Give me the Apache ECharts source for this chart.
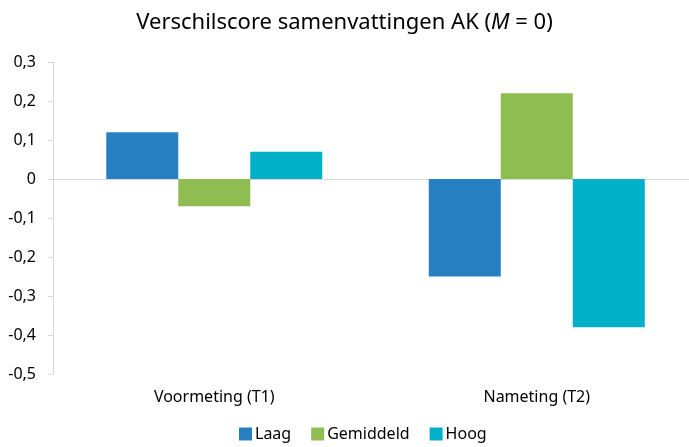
<!DOCTYPE html>
<html>
<head>
<meta charset="utf-8">
<script src="https://cdn.jsdelivr.net/npm/echarts@6/dist/echarts.min.js"></script>
<style>
  html, body { margin: 0; padding: 0; background: #fff; }
  #main { width: 689px; height: 447px; }
</style>
</head>
<body>
<div id="main"></div>
<script>
// data
var categories = ["Voormeting (T1)", "Nameting (T2)"];
var laag = [0.12, -0.25];
var gemiddeld = [-0.07, 0.22];
var hoog = [0.07, -0.38];
var seriesNames = ["Laag", "Gemiddeld", "Hoog"];
var colors = ["#2680c2", "#8fbd52", "#00afc8"];

var font = "Noto Sans";
var chart = echarts.init(document.getElementById("main"));

function bar(name, values) {
  return {
    name: name,
    type: "bar",
    xAxisIndex: 0,
    data: values,
    barWidth: 72,
    barGap: "0%",
    barCategoryGap: "33%"
  };
}

chart.setOption({
  animation: false,
  color: colors,
  textStyle: { fontFamily: font },
  title: {
    text: "Verschilscore samenvattingen AK ({i|M} = 0)",
    left: "center",
    top: 7,
    textStyle: {
      fontFamily: font,
      fontSize: 22,
      fontWeight: "normal",
      color: "#000",
      rich: {
        i: { fontFamily: font, fontSize: 22, fontStyle: "italic", color: "#000" }
      }
    }
  },
  legend: {
    bottom: 0,
    left: 234,
    itemWidth: 13,
    itemHeight: 13,
    itemGap: 20,
    icon: "rect",
    textStyle: { fontFamily: font, fontSize: 16, color: "#000", padding: [0, 0, 0, -2] },
    data: seriesNames
  },
  grid: { left: 53, top: 62, width: 645, height: 312, containLabel: false, outerBoundsMode: "none" },
  xAxis: [
    {
      type: "category",
      data: categories,
      axisLine: { onZero: true, lineStyle: { color: "#d9d9d9", width: 1 } },
      axisTick: { show: false },
      axisLabel: { show: false },
      splitLine: { show: false }
    },
    {
      type: "category",
      data: categories,
      position: "bottom",
      axisLine: { show: false },
      axisTick: { show: false },
      axisLabel: { margin: 15, fontFamily: font, fontSize: 16, color: "#000" },
      splitLine: { show: false }
    }
  ],
  yAxis: {
    type: "value",
    min: -0.5,
    max: 0.3,
    interval: 0.1,
    axisLine: { show: true, lineStyle: { color: "#d9d9d9" } },
    axisTick: { show: true, length: 5, lineStyle: { color: "#d9d9d9" } },
    splitLine: { show: false },
    axisLabel: {
      margin: 17,
      fontFamily: font,
      fontSize: 16,
      color: "#000",
      formatter: function (v) {
        var r = Math.round(v * 10) / 10;
        return r === 0 ? "0" : String(r).replace(".", ",");
      }
    }
  },
  series: [
    bar(seriesNames[0], laag),
    bar(seriesNames[1], gemiddeld),
    bar(seriesNames[2], hoog)
  ]
});
</script>
</body>
</html>
